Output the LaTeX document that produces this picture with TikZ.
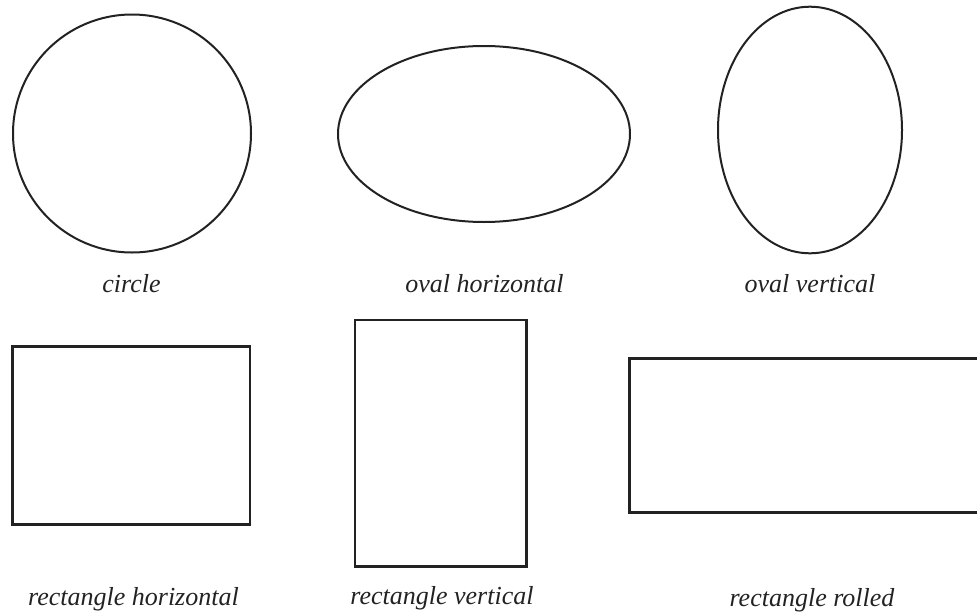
\documentclass[tikz,border=0pt]{standalone}
\usepackage{fontspec}
\setmainfont{Liberation Serif}
\definecolor{ink}{HTML}{222222}
\begin{document}
\begin{tikzpicture}[x=1pt,y=-1pt,
  outline/.style={draw=ink,line width=2pt},
  boxline/.style={draw=ink,line width=2.6pt},
  caption/.style={anchor=base,inner sep=0pt,text=ink,
    font=\fontsize{26}{30}\selectfont\itshape}]
  \useasboundingbox (0,0) rectangle (977,613);
  \clip (0,0) rectangle (977,613);

  % upper row: round shapes
  \draw[outline] (132,133.5) circle[radius=119];
  \draw[outline] (484,134) ellipse[x radius=146,y radius=88];
  \draw[outline] (810,130) ellipse[x radius=92,y radius=123.3];

  \node[caption] (lblcircle) at (131.5,292) {circle};
  \node[caption] (lblovalh) at (484.5,292) {oval horizontal};
  \node[caption] (lblovalv) at (810,292) {oval vertical};

  % lower row: rectangles (the last one runs off the right edge)
  \draw[boxline] (12.7,346.7) rectangle (250,524.3);
  \draw[boxline] (355,320) rectangle (526.7,566.7);
  \draw[boxline] (629.3,358.7) rectangle (995,512.3);

  \node[caption] (lblrecth) at (133.5,605) {rectangle horizontal};
  \node[caption] (lblrectv) at (442,604) {rectangle vertical};
  \node[caption] (lblrectr) at (812,606) {rectangle rolled};
\end{tikzpicture}
\end{document}
